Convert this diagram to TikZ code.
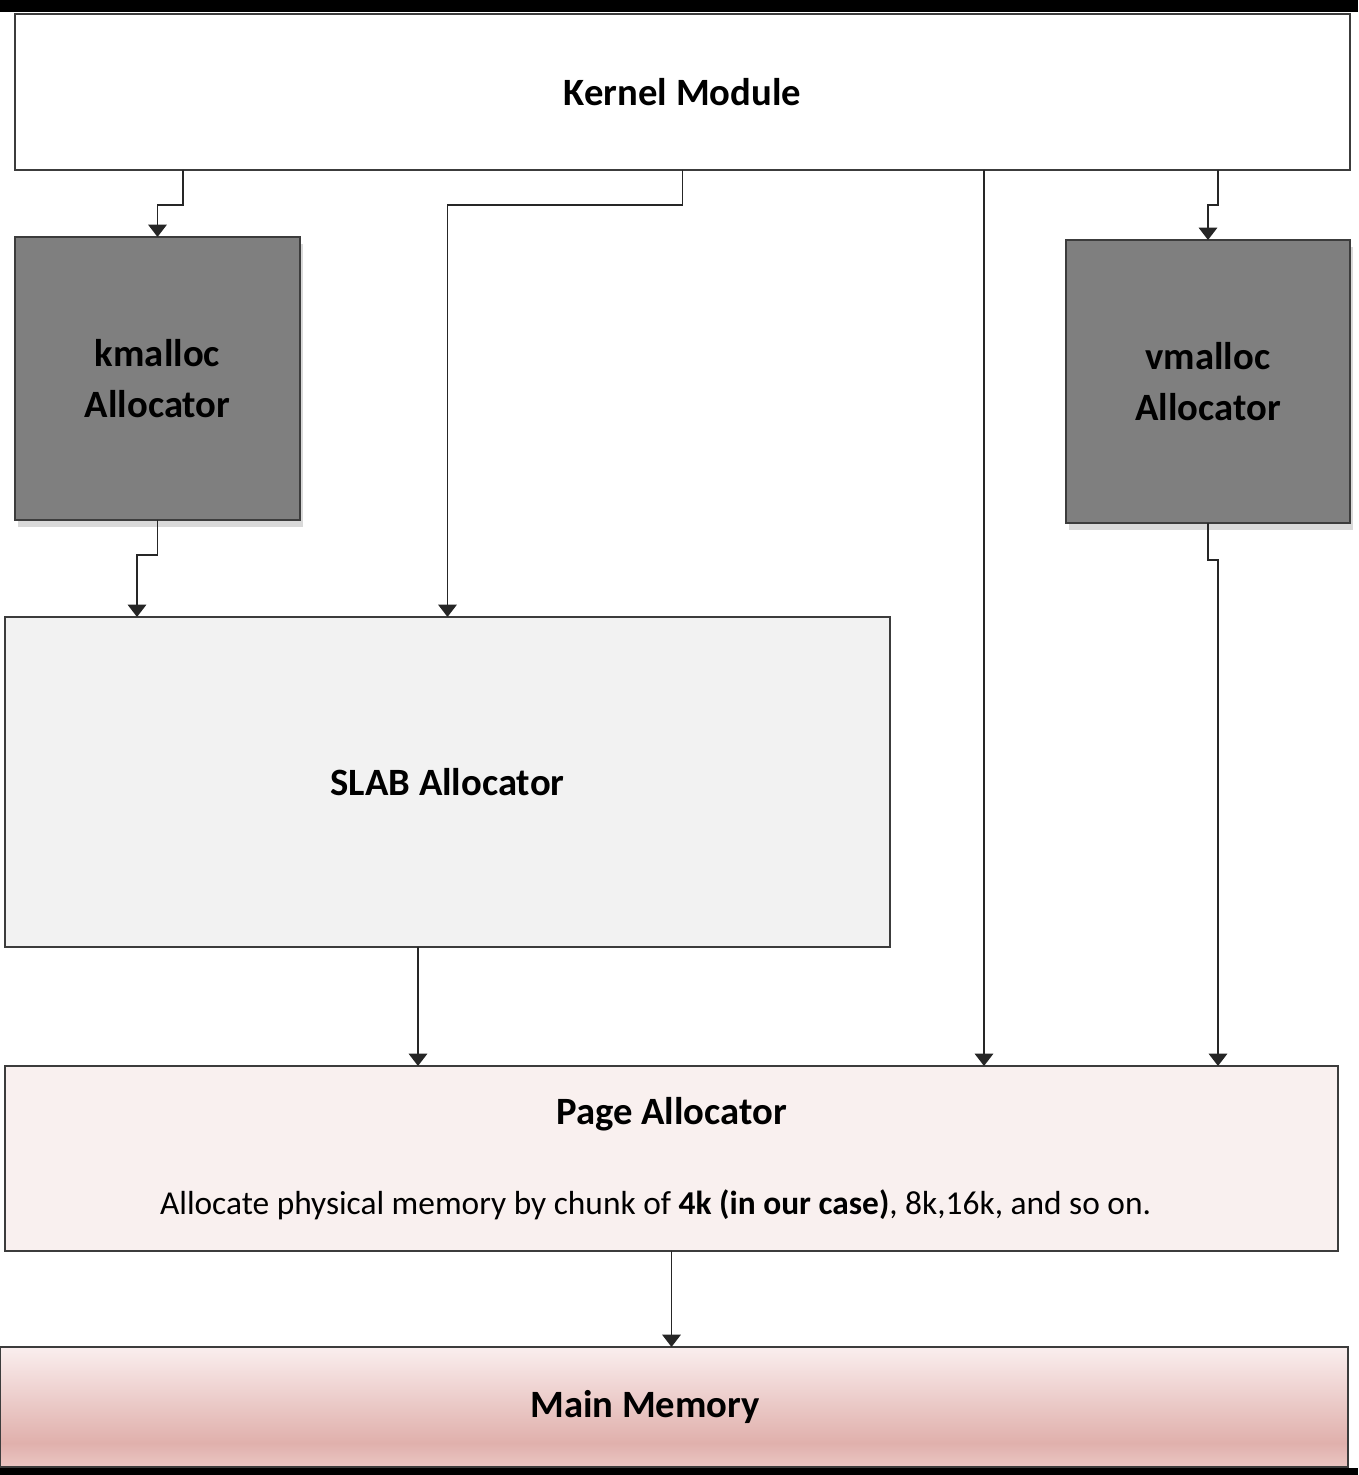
\documentclass[tikz,border=0pt]{standalone}
\usepackage{fontspec}
\setmainfont{Carlito}
\usetikzlibrary{shapes,arrows.meta,positioning,shadows}

\definecolor{boxline}{RGB}{60,60,60}
\definecolor{allocgray}{RGB}{127,127,127}
\definecolor{slabfill}{RGB}{242,242,242}
\definecolor{pagefill}{RGB}{249,240,239}
\definecolor{memtop}{RGB}{250,238,238}
\definecolor{memmid}{RGB}{224,176,172}
\definecolor{membot}{RGB}{234,198,195}
\pgfdeclareverticalshading{memshade}{100bp}{color(0bp)=(membot); color(25bp)=(membot); color(35bp)=(memmid); color(75bp)=(memtop); color(100bp)=(memtop)}

\begin{document}
\begin{tikzpicture}
	\tikzstyle{every node}=[font=\fontsize{22}{29}\selectfont\bfseries, inner sep=0pt, outer sep=0pt]
	\tikzstyle{block}=[draw=boxline, line width=1.2pt, align=center]
	\tikzstyle{alloc}=[block, fill=allocgray, drop shadow={shadow xshift=0.06cm, shadow yshift=-0.14cm, opacity=0.3}]
	\tikzstyle{conn}=[draw=black!85, line width=0.95pt, -{Triangle[width=10.5pt,length=7pt]}]

	\useasboundingbox (0,0) rectangle (27.16,29.5);
	% black frame, top and bottom
	\fill[black] (0,29.26) rectangle (27.16,29.5);
	\fill[black] (0,0) rectangle (27.16,0.14);

	\node[block, fill=white,
	minimum width=26.7cm,
	minimum height=3.12cm] (kernel) at (13.65,27.66) {Kernel Module};

	\node[alloc,
	minimum width=5.7cm,
	minimum height=5.66cm] (kmalloc) at (3.15,21.93) {kmalloc\\Allocator};

	\node[alloc,
	minimum width=5.68cm,
	minimum height=5.66cm] (vmalloc) at (24.16,21.87) {vmalloc\\Allocator};

	\node[block, fill=slabfill,
	minimum width=17.7cm,
	minimum height=6.6cm] (slab) at (8.95,13.86) {SLAB Allocator};

	\node[block, fill=pagefill,
	minimum width=26.66cm,
	minimum height=3.7cm] (page) at (13.43,6.33) {Page Allocator\\[22pt]{\fontsize{19}{22}\selectfont\mdseries Allocate physical memory by chunk of \textbf{4k (in our case)}, 8k,16k, and so on.\hspace*{0.64cm}}};

	\node[block, shading=memshade,
	minimum width=26.96cm,
	minimum height=2.4cm] (mem) at (13.48,1.36) {Main Memory\hspace*{1.16cm}};

	% connectors
	\draw[conn] ([xshift=3.36cm]kernel.south west) -- ++(0,-0.7) -| (kmalloc.north);
	\draw[conn] (kernel.south) -- ++(0,-0.7) -| (slab.north);
	\draw[conn] (19.68,0 |- kernel.south) -- (19.68,0 |- page.north);
	\draw[conn] ([xshift=-2.64cm]kernel.south east) -- ++(0,-0.7) -| (vmalloc.north);
	\draw[conn] (kmalloc.south) -- ++(0,-0.7) -| ([xshift=2.64cm]slab.north west);
	\draw[conn] (vmalloc.south) -- ++(0,-0.74) -| ([xshift=-2.4cm]page.north east);
	\draw[conn] ([xshift=8.26cm]slab.south west) coordinate (slabout) -- (slabout |- page.north);
	\draw[conn] (page.south) -- (page.south |- mem.north);
\end{tikzpicture}
\end{document}
